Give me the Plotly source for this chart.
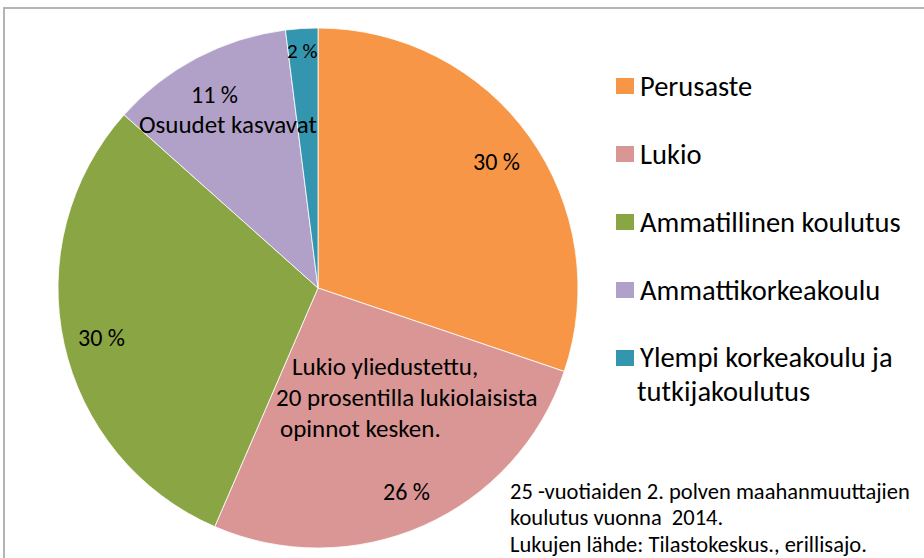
import math
import plotly.graph_objects as go

W, H = 924, 558

# ---- data ----
categories = ["Perusaste", "Lukio", "Ammatillinen koulutus", "Ammattikorkeakoulu",
              "Ylempi korkeakoulu ja tutkijakoulutus"]
legend_lines = [["Perusaste"], ["Lukio"], ["Ammatillinen koulutus"], ["Ammattikorkeakoulu"],
                ["Ylempi korkeakoulu ja", "tutkijakoulutus"]]
shares = [30.2, 26.3, 30.1, 11.4, 2.0]
colors = ["#F79646", "#D99694", "#8AA543", "#B1A0C7", "#3396AE"]

note_lukio = ["Lukio yliedustettu,", "20 prosentilla lukiolaisista", "opinnot kesken."]
note_amk = "Osuudet kasvavat"
source_note = ["25 -vuotiaiden 2. polven maahanmuuttajien", "koulutus vuonna  2014.",
               "Lukujen lähde: Tilastokeskus., erillisajo."]

FONT = "Carlito, Lato, Liberation Sans, sans-serif"

# pie geometry (pixels)
cx, cy, R = 318, 288, 260

def px(x):
    return x / W

def py(y):
    return 1 - y / H

fig = go.Figure(go.Pie(
    labels=categories, values=shares, sort=False, direction="clockwise", rotation=0,
    marker=dict(colors=colors, line=dict(color="white", width=0.8)),
    textinfo="none", hoverinfo="label+percent", showlegend=False,
    domain=dict(x=[px(cx - R), px(cx + R)], y=[py(cy + R), py(cy - R)]),
))

annotations = []
shapes = []

def txt(x, y, s, size, xanchor="left"):
    annotations.append(dict(x=px(x), y=py(y), xref="paper", yref="paper", text=s,
                            showarrow=False, borderpad=0,
                            font=dict(family=FONT, size=size, color="#000000"),
                            xanchor=xanchor, yanchor="middle"))

# data labels computed from the values
total = sum(shares)
cum = 0.0
for i, v in enumerate(shares):
    mid = (cum + v / 2) / total * 2 * math.pi
    cum += v
    small = v / total < 0.05
    rf = 0.92 if small else 0.85
    lx = cx + rf * R * math.sin(mid)
    ly = cy - rf * R * math.cos(mid)
    txt(lx - 1, ly + 2, f"{round(v / total * 100)} %", 21 if small else 24, "center")

# manual legend
leg_y = [86, 154, 222, 290, 358]
for i, lines in enumerate(legend_lines):
    yc = leg_y[i]
    shapes.append(dict(type="rect", xref="paper", yref="paper",
                       x0=px(616), x1=px(634), y0=py(yc + 8), y1=py(yc - 8),
                       fillcolor=colors[i], line=dict(width=0)))
    for j, line in enumerate(lines):
        txt(639 if j == 0 else 636, yc + j * 33, line, 28.5)

txt(228, 124, note_amk, 25, "center")
for j, (line, x0) in enumerate(zip(note_lukio, [291, 275, 279])):
    txt(x0, 366 + j * 31, line, 25)
for j, line in enumerate(source_note):
    txt(509, 491 + j * 26.5, line, 22.5)

# outer frame (cropped)
shapes.append(dict(type="rect", xref="paper", yref="paper",
                   x0=px(4), x1=1.05, y0=-0.05, y1=py(8),
                   line=dict(color="#B4B4B4", width=2), fillcolor="rgba(0,0,0,0)"))

fig.update_layout(
    width=W, height=H, margin=dict(l=0, r=0, t=0, b=0),
    paper_bgcolor="white", plot_bgcolor="white",
    annotations=annotations, shapes=shapes, showlegend=False,
)

fig.write_html("out.html", config={"displayModeBar": False},
               post_script="document.body.style.margin='0';")
